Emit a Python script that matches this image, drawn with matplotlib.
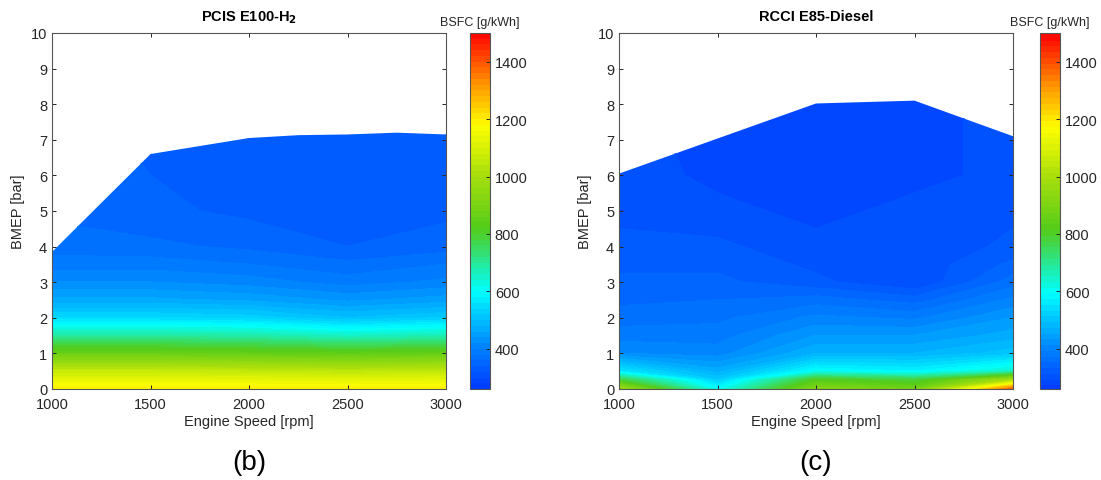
import numpy as np
import matplotlib
matplotlib.use("Agg")
import matplotlib.pyplot as plt
import matplotlib.colors as colors
from matplotlib.patches import Polygon

plt.rcParams['font.family'] = ['Liberation Sans', 'DejaVu Sans']

# ---- data: PCIS E100-H2 ----
speed_b = [1000, 1500, 2000, 2500, 3000]
bmep_b = [0, 0.5, 1, 1.5, 2, 2.5, 3, 3.5, 4, 5, 6, 7, 8]
bsfc_b = [
    [1200, 1200, 1200, 1200, 1200],
    [1060, 1060, 1050, 1040, 1050],
    [860, 860, 850, 840, 850],
    [690, 690, 680, 650, 670],
    [540, 540, 530, 500, 520],
    [465, 465, 455, 435, 450],
    [420, 420, 410, 390, 405],
    [390, 390, 380, 365, 380],
    [370, 365, 355, 340, 350],
    [355, 345, 335, 330, 335],
    [350, 340, 335, 330, 330],
    [345, 338, 333, 330, 325],
    [345, 338, 333, 330, 325],
]
edge_speed_b = [1000, 1500, 2000, 2250, 2500, 2750, 3000]
edge_bmep_b = [3.85, 6.6, 7.05, 7.13, 7.15, 7.2, 7.15]

# ---- data: RCCI E85-Diesel ----
speed_c = [1000, 1500, 2000, 2500, 3000]
bmep_c = [0, 0.25, 0.5, 1, 1.5, 2, 2.5, 3, 3.5, 4, 5, 6, 7, 8.5]
bsfc_c = [
    [980, 600, 920, 880, 1380],
    [780, 520, 820, 780, 1000],
    [560, 470, 600, 580, 650],
    [420, 410, 480, 480, 510],
    [390, 390, 440, 440, 470],
    [370, 375, 405, 395, 440],
    [355, 360, 370, 350, 405],
    [345, 345, 325, 300, 370],
    [335, 335, 315, 305, 345],
    [325, 325, 305, 305, 325],
    [315, 305, 295, 305, 315],
    [310, 295, 285, 295, 305],
    [305, 295, 282, 295, 305],
    [305, 295, 290, 295, 305],
]
edge_speed_c = [1000, 2000, 2500, 3000]
edge_bmep_c = [6.05, 8.02, 8.1, 7.1]

cbar_ticks = [400, 600, 800, 1000, 1200, 1400]

# colormap (jet-like, starting from medium blue)
nodes = [(260, (0.0, 0.22, 1.0)),
         (420, (0.0, 0.55, 1.0)),
         (600, (0.0, 1.0, 1.0)),
         (820, (0.33, 0.80, 0.10)),
         (1000, (0.65, 0.87, 0.05)),
         (1180, (1.0, 1.0, 0.0)),
         (1350, (1.0, 0.5, 0.0)),
         (1500, (1.0, 0.0, 0.0))]
vmin, vmax = 260, 1500
cmap = colors.LinearSegmentedColormap.from_list(
    "bsfc", [((v - vmin) / (vmax - vmin), c) for v, c in nodes])
norm = colors.Normalize(vmin=vmin, vmax=vmax)
levels = np.arange(vmin, vmax + 1, 20)

fig = plt.figure(figsize=(11.01, 4.81), dpi=100)
W, H = 1101, 481
tick_col = '#262626'


def panel(x0, cx0, speed, bmep, bsfc, es, eb, title, tag):
    ax = fig.add_axes([x0 / W, (H - 390) / H, 394 / W, 356 / H])
    cax = fig.add_axes([cx0 / W, (H - 390) / H, 20 / W, 356 / H])
    X, Y = np.meshgrid(speed, bmep)
    cs = ax.contourf(X, Y, np.array(bsfc, float), levels=levels, cmap=cmap,
                     norm=norm)
    cs.set_edgecolor('face')
    cs.set_linewidth(0.4)
    poly = [(es[0], 0)] + list(zip(es, eb)) + [(es[-1], 0)]
    clip = Polygon(poly, closed=True, transform=ax.transData,
                   facecolor='none', edgecolor='none')
    ax.add_patch(clip)
    cs.set_clip_path(clip)
    ax.set_xlim(1000, 3000)
    ax.set_ylim(0, 10)
    ax.set_xticks([1000, 1500, 2000, 2500, 3000])
    ax.set_yticks(range(0, 11))
    ax.tick_params(direction='in', top=True, right=True, length=3,
                   labelsize=10.5, colors=tick_col, width=0.7)
    ax.tick_params(axis='x', pad=6)
    for s in ax.spines.values():
        s.set_color('#555555')
        s.set_linewidth(0.8)
    ax.set_xlabel('Engine Speed [rpm]', fontsize=10.5, color=tick_col, labelpad=2)
    ax.set_ylabel('BMEP [bar]', fontsize=10.5, color=tick_col, labelpad=4)
    ax.set_title(title, fontsize=10.5, fontweight='bold', pad=9)

    cb = fig.colorbar(cs, cax=cax, ticks=cbar_ticks)
    cb.solids.set_edgecolor('face')
    cb.ax.tick_params(direction='in', length=3, labelsize=10.5, colors=tick_col,
                      width=0.7)
    cb.outline.set_edgecolor('#555555')
    cb.outline.set_linewidth(0.8)
    cax.set_title('BSFC [g/kWh]', fontsize=9, color=tick_col, pad=6)

    fig.text((x0 + 197) / W, (H - 463) / H, tag, fontsize=20,
             ha='center', va='center')


panel(52, 470, speed_b, bmep_b, bsfc_b, edge_speed_b, edge_bmep_b,
      'PCIS E100-H$_\\mathbf{2}$', '(b)')
panel(619, 1040, speed_c, bmep_c, bsfc_c, edge_speed_c, edge_bmep_c,
      'RCCI E85-Diesel', '(c)')

fig.savefig('out.png', dpi=100)
